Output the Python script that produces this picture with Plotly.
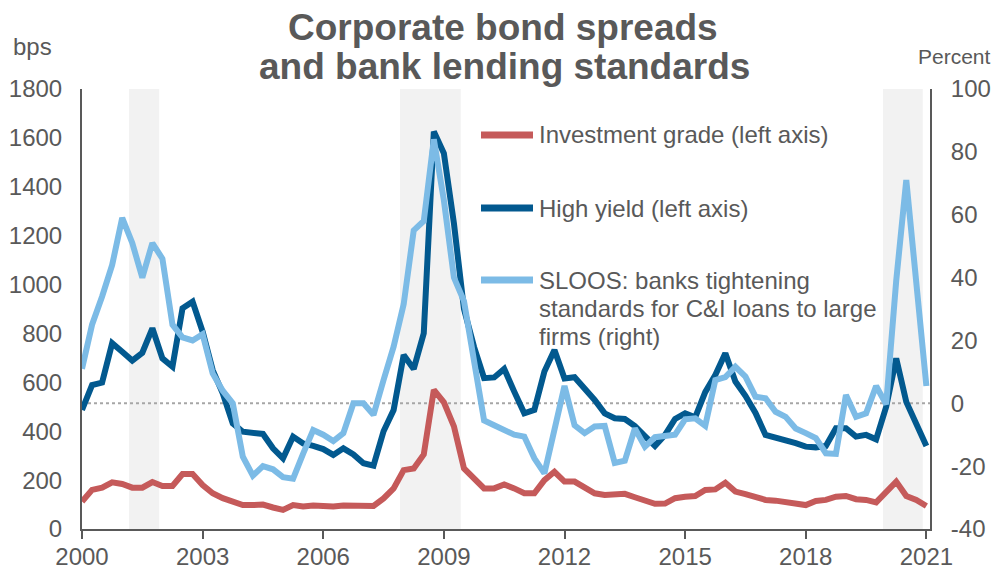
import plotly.graph_objects as go

# Quarterly observations, 2000Q1 .. 2021Q1
start_year = 2000
investment_grade = [112, 160, 169, 191, 184, 169, 169, 192, 176, 176,
                    225, 225, 180, 146, 126, 109, 98, 98, 100, 88,
                    78, 98, 92, 96, 92, 92, 96, 94, 92, 94,
                    125, 166, 241, 248, 305, 569, 518, 420, 248, 205,
                    166, 166, 182, 166, 146, 146, 200, 234, 194, 194,
                    173, 146, 139, 142, 144, 130, 118, 103, 104, 126,
                    132, 135, 160, 162, 189, 153, 143, 132, 119, 116,
                    112, 102, 98, 115, 119, 132, 135, 122, 119, 109,
                    149, 194, 135, 119, 94]
high_yield = [487, 589, 599, 760, 725, 689, 721, 821, 698, 664,
              903, 930, 807, 650, 555, 432, 398, 394, 389, 330,
              289, 378, 350, 340, 327, 303, 330, 305, 269, 259,
              400, 487, 712, 655, 801, 1626, 1537, 1250, 900, 745,
              617, 620, 655, 562, 473, 487, 644, 732, 616, 621,
              576, 528, 473, 453, 450, 421, 380, 340, 385, 450,
              473, 457, 560, 630, 719, 603, 545, 475, 385, 375,
              367, 351, 337, 334, 340, 412, 412, 378, 385, 367,
              500, 698, 520, 430, 340]
sloos = [11, 25, 34, 44, 59, 51, 40, 51, 46, 25,
         21, 20, 22, 9.5, 4, 0, -17, -23, -20, -21,
         -23.5, -24, -16, -8.5, -10, -12, -9.5, 0, 0, -3.7,
         7.4, 18, 31.5, 55, 58, 84, 64.6, 40, 32.5, 14,
         -5.5, -7, -8.5, -10, -10.6, -17.5, -22.3, -8, 5.5, -7,
         -9.5, -7.4, -7.2, -19, -18.3, -8, -13.8, -10.8, -10.6, -10,
         -5.1, -4.8, -7.2, 7.4, 8.3, 11.6, 8.5, 2.1, 1.6, -2.7,
         -4.3, -8, -9.5, -11.1, -15.9, -16.1, 2.6, -4.3, -3.2, 5.5,
         -0.3, 39, 71, 38, 5.5]
recessions = [(2001.17, 2001.92), (2007.91, 2009.42), (2019.92, 2020.91)]
x_ticks = [2000, 2003, 2006, 2009, 2012, 2015, 2018, 2021]
left_ticks = list(range(0, 1801, 200))
right_ticks = list(range(-40, 101, 20))

names = ["Investment grade (left axis)", "High yield (left axis)",
         "SLOOS: banks tightening standards for C&I loans to large firms (right)"]
colors = ["#C55A5A", "#02598F", "#7CBBE6"]

quarters = [start_year + i / 4 for i in range(len(sloos))]

FONT = "Liberation Sans, Arial, sans-serif"
GREY = "#595959"

fig = go.Figure()
fig.add_trace(go.Scatter(x=quarters, y=investment_grade, name=names[0], mode="lines",
                         line=dict(color=colors[0], width=6), yaxis="y"))
fig.add_trace(go.Scatter(x=quarters, y=high_yield, name=names[1], mode="lines",
                         line=dict(color=colors[1], width=6), yaxis="y"))
fig.add_trace(go.Scatter(x=quarters, y=sloos, name=names[2], mode="lines",
                         line=dict(color=colors[2], width=6), yaxis="y2"))

shapes = []
for a, b in recessions:
    shapes.append(dict(type="rect", xref="x", yref="paper", x0=a, x1=b, y0=0, y1=1,
                       fillcolor="#F2F2F2", line=dict(width=0), layer="below"))
shapes.append(dict(type="line", xref="paper", yref="y2", x0=0, x1=1, y0=0, y1=0,
                   line=dict(color="#A6A6A6", width=2, dash="dot"), layer="below"))

# plot area in pixels: x 82..930, y 89..529
def px(xp):
    return (xp - 82) / 848

def py(yp):
    return (529 - yp) / 440

legend_rows = [(135, colors[0]), (208, colors[1]), (280, colors[2])]
for yy, c in legend_rows:
    shapes.append(dict(type="line", xref="paper", yref="paper", x0=px(481), x1=px(533),
                       y0=py(yy), y1=py(yy), line=dict(color=c, width=7)))

annotations = []
legend_text = [(135, "Investment grade (left axis)"), (208, "High yield (left axis)"),
               (280, "SLOOS: banks tightening"), (308, "standards for C&I loans to large"),
               (336, "firms (right)")]
for yy, t in legend_text:
    annotations.append(dict(xref="paper", yref="paper", x=px(537), y=py(yy), text=t,
                            showarrow=False, xanchor="left", yanchor="middle",
                            font=dict(family=FONT, size=24, color=GREY)))

annotations.append(dict(xref="paper", yref="paper", x=px(503), y=py(27),
                        text="<b>Corporate bond spreads</b>", showarrow=False,
                        xanchor="center", yanchor="middle",
                        font=dict(family=FONT, size=37, color=GREY)))
annotations.append(dict(xref="paper", yref="paper", x=px(504), y=py(67),
                        text="<b>and bank lending standards</b>", showarrow=False,
                        xanchor="center", yanchor="middle",
                        font=dict(family=FONT, size=37, color=GREY)))
annotations.append(dict(xref="paper", yref="paper", x=px(11), y=py(46), text="bps",
                        showarrow=False, xanchor="left", yanchor="middle",
                        font=dict(family=FONT, size=24, color=GREY)))
annotations.append(dict(xref="paper", yref="paper", x=px(993), y=py(57), text="Percent",
                        showarrow=False, xanchor="right", yanchor="middle",
                        font=dict(family=FONT, size=21, color=GREY)))

fig.update_layout(
    width=994, height=569,
    margin=dict(l=82, r=64, t=89, b=40, autoexpand=False),
    paper_bgcolor="white", plot_bgcolor="white",
    showlegend=False,
    font=dict(family=FONT, size=24, color=GREY),
    shapes=shapes, annotations=annotations,
    xaxis=dict(range=[2000, 2021.09], tickvals=x_ticks, ticktext=[str(t) for t in x_ticks],
               showgrid=False, zeroline=False, showline=True, linecolor=GREY, linewidth=2,
               ticks="outside", ticklen=8, tickwidth=2, tickcolor=GREY, automargin=False,
               ticklabelstandoff=-3,
               tickfont=dict(family=FONT, size=24, color=GREY)),
    yaxis=dict(range=[0, 1800], tickvals=left_ticks, ticktext=[str(t) for t in left_ticks],
               showgrid=False, zeroline=False,
               showline=True, linecolor=GREY, linewidth=2, ticks="", automargin=False,
               ticklabelstandoff=13,
               tickfont=dict(family=FONT, size=24, color=GREY)),
    yaxis2=dict(range=[-40, 100], tickvals=right_ticks, ticktext=[str(t) for t in right_ticks],
                overlaying="y", side="right",
                anchor="x", showgrid=False, zeroline=False, showline=True, automargin=False,
                linecolor=GREY, linewidth=2, ticks="", ticklabelstandoff=14,
                tickfont=dict(family=FONT, size=24, color=GREY)),
)

fig.write_html("out.html")
